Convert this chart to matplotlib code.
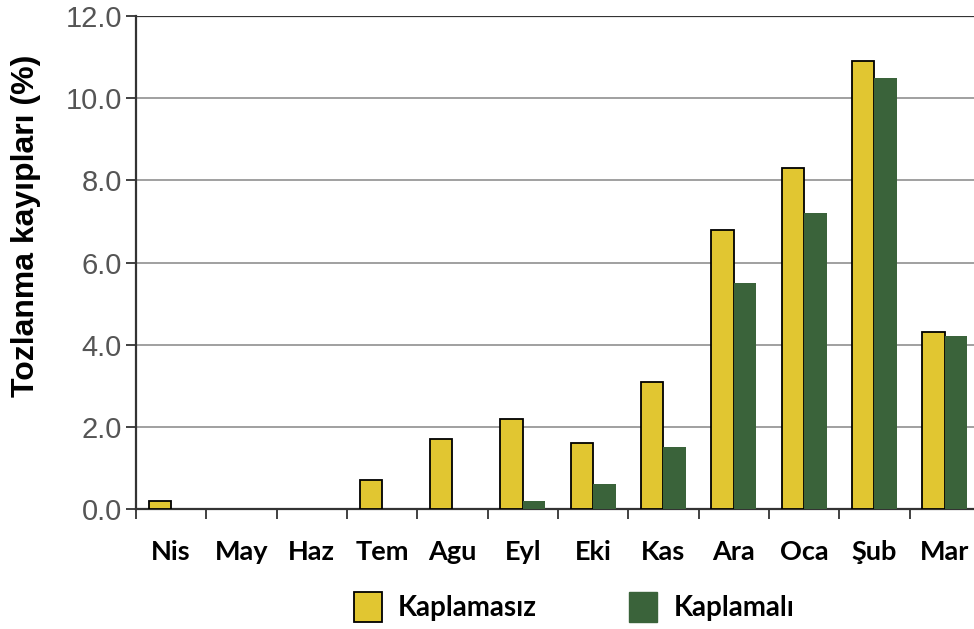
import matplotlib.pyplot as plt
import numpy as np
from matplotlib.patches import Patch

# month labels and loss values (%)
months = ['Nis', 'May', 'Haz', 'Tem', 'Agu', 'Eyl', 'Eki', 'Kas', 'Ara', 'Oca', 'Şub', 'Mar']
uncoated = [0.2, 0.0, 0.0, 0.7, 1.7, 2.2, 1.6, 3.1, 6.8, 8.3, 10.9, 4.3]
coated = [0.0, 0.0, 0.0, 0.0, 0.0, 0.2, 0.6, 1.5, 5.5, 7.2, 10.5, 4.2]

YELLOW = '#E1C631'
GREEN = '#3A633A'

fig = plt.figure(figsize=(9.74, 6.29), dpi=100)
ax = fig.add_axes([136 / 974, 1 - 509 / 629, 844 / 974, 493 / 629])

x = np.arange(len(months))
w = 0.32
# skip the outline on empty bars so no stray line sits on the axis
edge_w = [1.3 if v > 0 else 0 for v in uncoated]
ax.bar(x - w / 2, uncoated, width=w, color=YELLOW, edgecolor='black', linewidth=edge_w, zorder=3)
ax.bar(x + w / 2, coated, width=w, color=GREEN, linewidth=0, zorder=3)

ax.set_xlim(-0.5, len(months) - 0.5)
ax.set_ylim(0, 12)
ax.set_yticks(np.arange(0, 12.1, 2))
ax.set_yticklabels([f'{v:.1f}' for v in np.arange(0, 12.1, 2)],
                   fontfamily='Liberation Sans', fontsize=21, color='#555555')
ax.yaxis.grid(True, color='#999999', linewidth=1.3, zorder=0)
ax.axhline(12, color='#333333', linewidth=1.6, zorder=4)

# month labels centred, ticks on category boundaries
ax.set_xticks(x)
ax.set_xticklabels(months, fontfamily='Lato', fontweight='bold', fontsize=19.5)
ax.tick_params(axis='x', length=0, pad=22)
ax.set_xticks(np.arange(-0.5, len(months), 1), minor=True)
ax.tick_params(axis='x', which='minor', length=7, width=1.3, color='#333333', direction='out')
ax.tick_params(axis='y', length=7, width=1.3, color='#333333', pad=3)

for s in ['top', 'right']:
    ax.spines[s].set_visible(False)
for s in ['left', 'bottom']:
    ax.spines[s].set_color('#333333')
    ax.spines[s].set_linewidth(1.6)

fig.text(26 / 974, 1 - 226 / 629, 'Tozlanma kayıpları (%)', rotation=90, ha='center', va='center',
         fontfamily='Liberation Sans', fontweight='bold', fontsize=23)

handles = [Patch(facecolor=YELLOW, edgecolor='black', linewidth=1.3, label='Kaplamasız'),
           Patch(facecolor=GREEN, edgecolor=GREEN, label='Kaplamalı')]
fig.legend(handles=handles, loc='center', bbox_to_anchor=(574 / 974, 1 - 607 / 629), ncol=2,
           frameon=False, prop={'family': 'Lato', 'weight': 'bold', 'size': 20},
           handlelength=1.0, handleheight=1.3, columnspacing=3.3, handletextpad=0.6)

fig.savefig('out.png', dpi=100)
